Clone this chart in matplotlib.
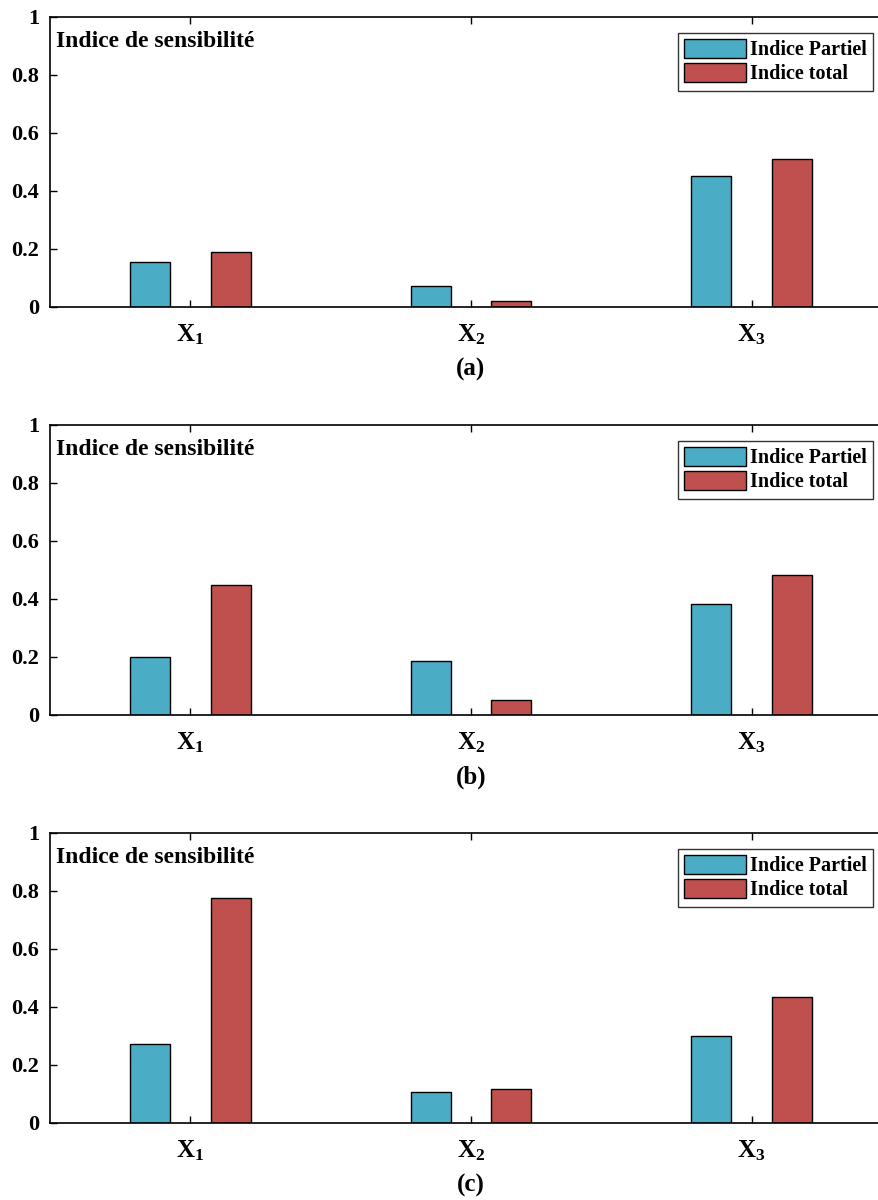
import matplotlib
matplotlib.use("Agg")
import matplotlib.pyplot as plt
import numpy as np

plt.rcParams['font.family'] = ['Liberation Serif', 'DejaVu Serif']
plt.rcParams['font.weight'] = 'bold'
plt.rcParams['mathtext.fontset'] = 'custom'
plt.rcParams['mathtext.bf'] = 'Liberation Serif:bold'
plt.rcParams['mathtext.rm'] = 'Liberation Serif:bold'
plt.rcParams['mathtext.it'] = 'Liberation Serif:bold'

categories = [r'$\mathbf{X_1}$', r'$\mathbf{X_2}$', r'$\mathbf{X_3}$']
series_names = ['Indice Partiel', 'Indice total']
panel_labels = ['(a)', '(b)', '(c)']
partiel_a = [0.155, 0.072, 0.452]
total_a = [0.19, 0.02, 0.51]
partiel_b = [0.20, 0.185, 0.384]
total_b = [0.447, 0.053, 0.483]
partiel_c = [0.274, 0.106, 0.30]
total_c = [0.775, 0.117, 0.433]
yticks = [0, 0.2, 0.4, 0.6, 0.8, 1]
ytick_labels = ['0', '0.2', '0.4', '0.6', '0.8', '1']
title_text = 'Indice de sensibilité'

colors = ['#4BACC6', '#C0504D']

W, H = 879, 1200
fig = plt.figure(figsize=(W / 100, H / 100), dpi=100)

panels = [
    (partiel_a, total_a, 17, 307),
    (partiel_b, total_b, 425, 715),
    (partiel_c, total_c, 833, 1123),
]
left_px, right_px = 50, 892
x = np.arange(1, len(categories) + 1)
bw = 0.143
off = 0.144

for i, (p, t, top, bot) in enumerate(panels):
    ax = fig.add_axes([left_px / W, 1 - bot / H, (right_px - left_px) / W, (bot - top) / H])
    ax.bar(x - off, p, bw, color=colors[0], edgecolor='black', linewidth=1.0, label=series_names[0], zorder=2)
    ax.bar(x + off, t, bw, color=colors[1], edgecolor='black', linewidth=1.0, label=series_names[1], zorder=2)
    ax.set_xlim(0.5, 3.5)
    ax.set_ylim(0, 1)
    ax.set_xticks(x)
    ax.set_xticklabels(categories, fontsize=18)
    ax.set_yticks(yticks)
    ax.set_yticklabels(ytick_labels, fontsize=16, fontweight='bold')
    ax.tick_params(axis='x', direction='in', top=True, bottom=True, length=5, width=1, pad=11)
    ax.tick_params(axis='y', direction='in', left=True, right=True, length=5, width=1, pad=8)
    for s in ax.spines.values():
        s.set_linewidth(1.2)
    ax.text(0.007, 1 - 14 / 290, title_text, transform=ax.transAxes, va='top', ha='left',
            fontsize=17, fontweight='bold')
    ax.set_xlabel(panel_labels[i], fontsize=18, fontweight='bold', labelpad=8)
    leg = ax.legend(loc='upper right', bbox_to_anchor=(873 / W, 1 - (top + 16) / H),
                    bbox_transform=fig.transFigure, borderaxespad=0, fancybox=False,
                    edgecolor='#333333', framealpha=1, prop={'size': 14.5, 'weight': 'bold'},
                    handlelength=3.1, handleheight=1.05, handletextpad=0.2,
                    labelspacing=0.15, borderpad=0.3)
    leg.get_frame().set_linewidth(1.0)

fig.savefig('out.png', dpi=100)
